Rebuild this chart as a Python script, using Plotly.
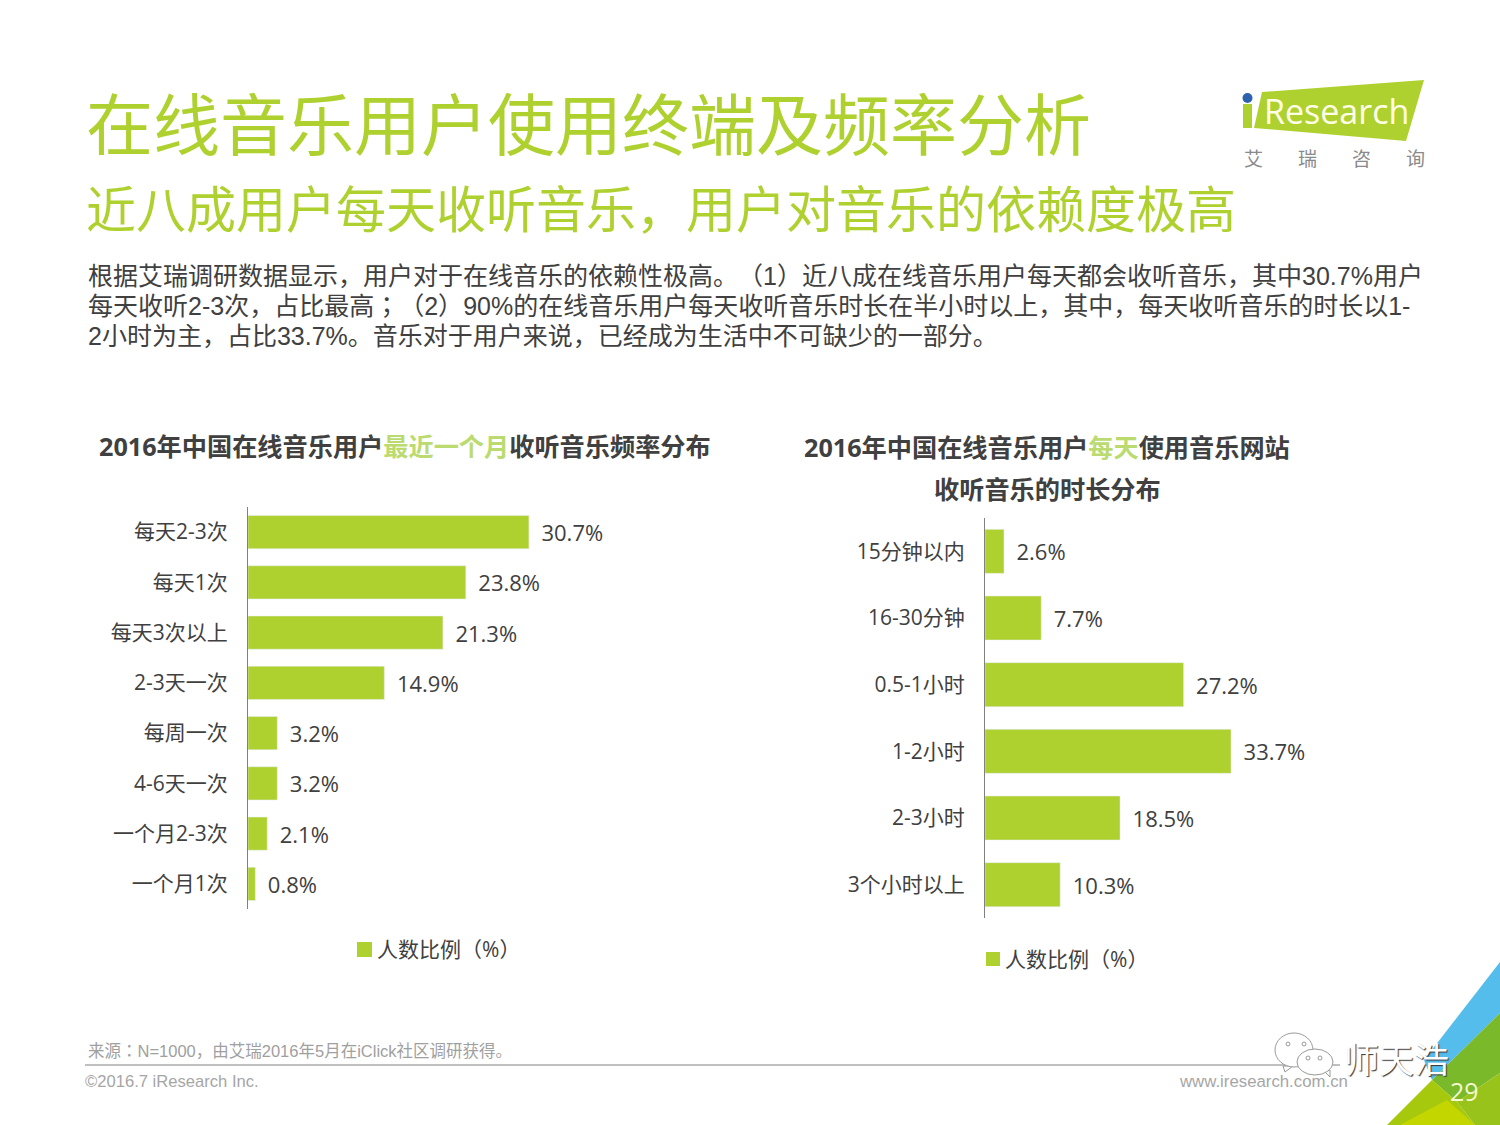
#!/usr/bin/env python3
import plotly.graph_objects as go

W, H = 1500, 1125
CJK = "Noto Sans CJK SC"
LATIN_CJK = "Open Sans, Noto Sans CJK SC"
ARIAL_CJK = "Liberation Sans, Noto Sans CJK SC"
GREEN = "#AFD12F"
GREY = "#404040"

# left chart
freq_labels = ["每天2-3次", "每天1次", "每天3次以上", "2-3天一次", "每周一次", "4-6天一次", "一个月2-3次", "一个月1次"]
freq_values = [30.7, 23.8, 21.3, 14.9, 3.2, 3.2, 2.1, 0.8]

# right chart
time_labels = ["15分钟以内", "16-30分钟", "0.5-1小时", "1-2小时", "2-3小时", "3个小时以上"]
time_values = [2.6, 7.7, 27.2, 33.7, 18.5, 10.3]

series_name = "人数比例（%）"
title_main = "在线音乐用户使用终端及频率分析"
title_sub = "近八成用户每天收听音乐，用户对音乐的依赖度极高"
body_lines = [
    "根据艾瑞调研数据显示，用户对于在线音乐的依赖性极高。（1）近八成在线音乐用户每天都会收听音乐，其中30.7%用户",
    "每天收听2-3次，占比最高；（2）90%的在线音乐用户每天收听音乐时长在半小时以上，其中，每天收听音乐的时长以1-",
    "2小时为主，占比33.7%。音乐对于用户来说，已经成为生活中不可缺少的一部分。",
]
logo_chars = ["艾", "瑞", "咨", "询"]


def px(x):
    return x / W


def py(y):
    return 1 - y / H


def centred(text):
    # the KR cut sets these marks with more room round them, like the slide font does
    for mark in "，；：（）":
        text = text.replace(mark, f"<span style='font-family:Noto Sans CJK KR;text-spacing-trim:space-all'>{mark}</span>")
    return text


def label(x, y, text, size, color=GREY, anchor="left", family=LATIN_CJK, **font_extra):
    fig.add_annotation(
        x=px(x), y=py(y), xref="paper", yref="paper", text=centred(text), showarrow=False,
        xanchor=anchor, yanchor="middle", borderpad=0,
        font=dict(family=family, size=size, color=color, **font_extra),
    )


def poly(points, color, layer="below", line=None):
    path = "M " + " L ".join(f"{px(x)},{py(y)}" for x, y in points) + " Z"
    fig.add_shape(type="path", path=path, xref="paper", yref="paper",
                  fillcolor=color, line=line or dict(width=0), layer=layer)


def oval(cx, cy, rx, ry, fill="white", line=None):
    fig.add_shape(type="circle", xref="paper", yref="paper",
                  x0=px(cx - rx), x1=px(cx + rx), y0=py(cy + ry), y1=py(cy - ry),
                  fillcolor=fill, line=line or dict(width=0))


fig = go.Figure()

fig.add_trace(go.Bar(
    y=freq_labels, x=freq_values, orientation="h", name=series_name,
    marker_color=GREEN, width=0.66, xaxis="x", yaxis="y",
    text=[f"\u2004\u200a{v}%" for v in freq_values], textposition="outside", cliponaxis=False,
    textfont=dict(family=LATIN_CJK, size=22, color=GREY),
))
fig.add_trace(go.Bar(
    y=time_labels, x=time_values, orientation="h", name=series_name,
    marker_color=GREEN, width=0.66, xaxis="x2", yaxis="y2",
    text=[f"\u2004\u200a{v}%" for v in time_values], textposition="outside", cliponaxis=False,
    textfont=dict(family=LATIN_CJK, size=22, color=GREY),
))

fig.update_layout(
    width=W, height=H, autosize=False, showlegend=False,
    margin=dict(l=0, r=0, t=0, b=0),
    paper_bgcolor="white", plot_bgcolor="white",
    xaxis=dict(domain=[px(248), px(614)], range=[0, 40], visible=False, anchor="y"),
    yaxis=dict(domain=[py(909), py(507)], autorange="reversed", anchor="x", showline=True,
               linecolor="#808080", linewidth=1, ticks="", showgrid=False, ticklabelstandoff=15,
               tickfont=dict(family=LATIN_CJK, size=21, color=GREY)),
    xaxis2=dict(domain=[px(985), px(1277)], range=[0, 40], visible=False, anchor="y2"),
    yaxis2=dict(domain=[py(918), py(518)], autorange="reversed", anchor="x2", showline=True,
                linecolor="#808080", linewidth=1, ticks="", showgrid=False, ticklabelstandoff=15,
                tickfont=dict(family=LATIN_CJK, size=21, color=GREY)),
)

# corner decoration
poly([(1500, 962), (1424, 1060), (1432, 1080), (1500, 1013)], "#55BDEC")
poly([(1432, 1080), (1500, 1013), (1500, 1073), (1457, 1102)], "#7AB929")
poly([(1432, 1080), (1387, 1125), (1475, 1125), (1457, 1102)], "#A6C90E")
poly([(1457, 1102), (1500, 1073), (1500, 1125), (1475, 1125)], "#98C31A")
poly([(1400, 1125), (1447, 1100), (1475, 1125)], "#C4D600")

# headings
label(85, 121, title_main, 67, color=GREEN, family=CJK)
label(85, 206, title_sub, 50, color=GREEN, family=CJK)
for i, line in enumerate(body_lines):
    label(87, 274 + i * 30, line, 25, family=ARIAL_CJK)

label(98, 446, "<b>2016年中国在线音乐用户<span style='color:#BBDB70'>最近一个月</span>收听音乐频率分布</b>", 25.2)
label(1047, 447, "<b>2016年中国在线音乐用户<span style='color:#BBDB70'>每天</span>使用音乐网站</b>", 25.2, anchor="center")
label(1047, 489, "<b>收听音乐的时长分布</b>", 25.2, anchor="center")

# legends
poly([(357, 942), (372, 942), (372, 957), (357, 957)], GREEN)
label(376, 948, series_name, 21)
poly([(986, 952), (1000, 952), (1000, 966), (986, 966)], GREEN)
label(1004, 958, series_name, 21)

# logo
poly([(1262, 92), (1424, 80), (1406, 141), (1254, 128)], GREEN)
poly([(1243, 104), (1252, 104), (1252, 128), (1243, 128)], GREEN)
oval(1247.5, 98, 5, 5, fill="#2F62AE")
label(1263, 111, "Research", 34, color="#FFFFE8", family="Open Sans")
for i, ch in enumerate(logo_chars):
    label(1253 + i * 54, 157, ch, 19, color="#8a8a8a", anchor="center", family=CJK)

# footer
fig.add_shape(type="line", xref="paper", yref="paper", x0=px(85), x1=px(1340), y0=py(1065), y1=py(1065),
              line=dict(color="#808080", width=1))
label(87, 1050, "来源：N=1000，由艾瑞2016年5月在iClick社区调研获得。", 16.5, color="#A0A0A0", family=ARIAL_CJK)
label(84, 1081, "©2016.7 iResearch Inc.", 16.6, color="#A6A6A6", family="Liberation Sans")
label(1178, 1081, "www.iresearch.com.cn", 16.8, color="#A6A6A6", family="Liberation Sans")
label(1449, 1091, "29", 25, color="#F4F8D0", family="Open Sans")

# watermark
outline = dict(color="#9a9a9a", width=1)
poly([(1283, 1066), (1285, 1072), (1293, 1066)], "white", layer="above", line=outline)
oval(1294, 1050, 19, 17, line=outline)
poly([(1325, 1072), (1330, 1077), (1330, 1070)], "white", layer="above", line=outline)
oval(1315, 1062, 18, 13, line=outline)
for ex, ey in [(1288, 1044), (1304, 1044), (1308, 1058), (1320, 1058)]:
    oval(ex, ey, 2, 2, fill="white", line=outline)
label(1343, 1057, "师天浩", 35, color="white", family=CJK, shadow="1px 1px 1px #333")

fig.write_html("out.html", config={"displayModeBar": False}, post_script="document.body.style.margin='0';")
